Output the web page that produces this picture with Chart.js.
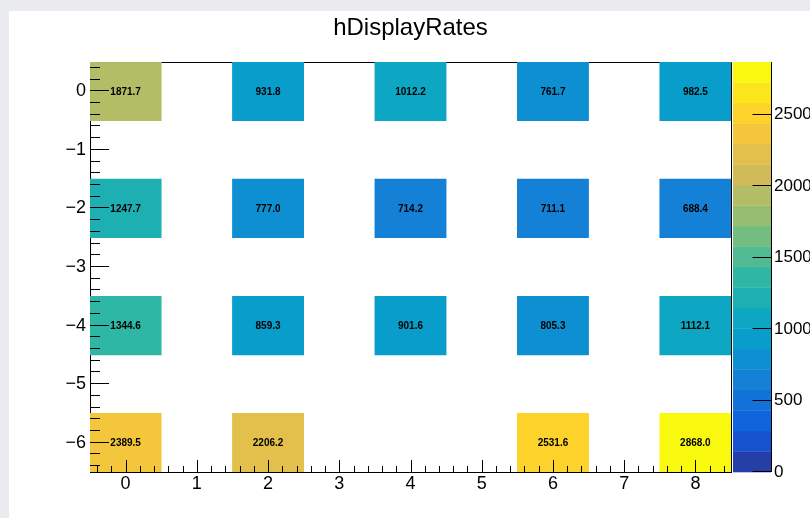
<!DOCTYPE html>
<html>
<head>
<meta charset="utf-8">
<title>hDisplayRates</title>
<script src="https://cdn.jsdelivr.net/npm/chart.js@4/dist/chart.umd.min.js"></script>
<style>
  html, body { margin: 0; padding: 0; width: 810px; height: 518px; overflow: hidden; background: #e9ebee; }
  #sheet { position: absolute; left: 9px; top: 11px; width: 801px; height: 507px; background: #ffffff; }
  #c { position: absolute; left: 0; top: 0; }
</style>
</head>
<body>
<div id="sheet"></div>
<canvas id="c" width="810" height="518"></canvas>
<script>
// Bin centres of the filled bins
const xBins = [0, 2, 4, 6, 8];
const yBins = [0, -2, -4, -6];
const binWidth = 1;

// Display rates per row (one value per x bin, null = empty bin)
const ratesY0  = [1871.7, 931.8, 1012.2, 761.7, 982.5];
const ratesYm2 = [1247.7, 777.0, 714.2, 711.1, 688.4];
const ratesYm4 = [1344.6, 859.3, 901.6, 805.3, 1112.1];
const ratesYm6 = [2389.5, 2206.2, null, 2531.6, 2868.0];
const rateRows = [ratesY0, ratesYm2, ratesYm4, ratesYm6];

// Axis tick values
const xTickValues = [0, 1, 2, 3, 4, 5, 6, 7, 8];
const yTickValues = [0, -1, -2, -3, -4, -5, -6];
const zTickValues = [0, 500, 1000, 1500, 2000, 2500];

// Bird palette (gradient stops)
const birdStops = [0.0000, 0.1250, 0.2500, 0.3750, 0.5000, 0.6250, 0.7500, 0.8750, 1.0000];
const birdRed   = [0.2082, 0.0592, 0.0780, 0.0232, 0.1802, 0.5301, 0.8186, 0.9956, 0.9764];
const birdGreen = [0.1664, 0.3599, 0.5041, 0.6419, 0.7178, 0.7492, 0.7328, 0.7862, 0.9832];
const birdBlue  = [0.5293, 0.8684, 0.8385, 0.7914, 0.6425, 0.4662, 0.3499, 0.1968, 0.0539];
const paletteSize = 255;
const nLevels = 20;

function birdColor(k) {
  for (let g = 1; g < birdStops.length; g++) {
    const lo = Math.floor(paletteSize * birdStops[g - 1]);
    const hi = Math.floor(paletteSize * birdStops[g]);
    if (k < hi || g === birdStops.length - 1) {
      const t = (k - lo) / (hi - lo);
      const r = birdRed[g - 1] + (birdRed[g] - birdRed[g - 1]) * t;
      const gr = birdGreen[g - 1] + (birdGreen[g] - birdGreen[g - 1]) * t;
      const b = birdBlue[g - 1] + (birdBlue[g] - birdBlue[g - 1]) * t;
      return `rgb(${Math.round(r * 255)},${Math.round(gr * 255)},${Math.round(b * 255)})`;
    }
  }
}

const allRates = rateRows.flat().filter(v => v !== null);
const zMin = 0;
const zMax = Math.max(...allRates);

function levelOf(z) {
  return Math.floor(0.01 + (z - zMin) * nLevels / (zMax - zMin));
}
function levelColor(level) {
  let k = Math.floor((level + 0.99) * paletteSize / nLevels);
  if (k > paletteSize - 1) k = paletteSize - 1;
  return birdColor(k);
}

// One floating bar per filled bin
const cells = [];
rateRows.forEach((row, r) => {
  row.forEach((v, i) => {
    if (v === null) return;
    cells.push({ x: xBins[i], y: [yBins[r] - binWidth / 2, yBins[r] + binWidth / 2], v: v });
  });
});

const FONT = "'Liberation Sans', Arial, Helvetica, sans-serif";
const fmtTick = v => (v < 0 ? '\u2212' + (-v) : String(v));

// Frame lines (top and right) sit underneath the cells
const framePlugin = {
  id: 'frame',
  beforeDatasetsDraw(chart) {
    const { ctx, chartArea: a } = chart;
    ctx.save();
    ctx.strokeStyle = '#000';
    ctx.lineWidth = 1;
    ctx.beginPath();
    ctx.moveTo(Math.round(a.left), Math.round(a.top) + 0.5);
    ctx.lineTo(Math.round(a.right) + 0.5, Math.round(a.top) + 0.5);
    ctx.lineTo(Math.round(a.right) + 0.5, Math.round(a.bottom));
    ctx.stroke();
    ctx.restore();
  }
};

// Bin content printed in each cell
const cellTextPlugin = {
  id: 'cellText',
  afterDatasetsDraw(chart) {
    const { ctx } = chart;
    const meta = chart.getDatasetMeta(0);
    ctx.save();
    ctx.fillStyle = '#000';
    ctx.font = `bold 10px ${FONT}`;
    ctx.textAlign = 'center';
    ctx.textBaseline = 'middle';
    meta.data.forEach((bar, i) => {
      const p = bar.getProps(['x', 'y', 'base'], true);
      ctx.fillText(cells[i].v.toFixed(1), p.x, (p.y + p.base) / 2 + 1);
    });
    ctx.restore();
  }
};

// Colour scale bar next to the frame, driven by the z scale
const paletteAxisPlugin = {
  id: 'paletteAxis',
  beforeDatasetsDraw(chart) {
    const { ctx } = chart;
    const z = chart.scales.z;
    const x0 = z.left + 2, x1 = z.left + 40;
    ctx.save();
    for (let j = 0; j < nLevels; j++) {
      const lo = zMin + j * (zMax - zMin) / nLevels;
      const hi = zMin + (j + 1) * (zMax - zMin) / nLevels;
      const yTop = z.getPixelForValue(hi), yBot = z.getPixelForValue(lo);
      ctx.fillStyle = levelColor(j);
      ctx.fillRect(x0, yTop, x1 - x0, yBot - yTop + 0.3);
    }
    ctx.restore();
  },
  afterDraw(chart) {
    const { ctx } = chart;
    const z = chart.scales.z;
    const ax = Math.round(z.left + 40) + 0.5;
    ctx.save();
    ctx.strokeStyle = '#000';
    ctx.lineWidth = 1;
    ctx.beginPath();
    ctx.moveTo(ax, z.top);
    ctx.lineTo(ax, z.bottom);
    zTickValues.forEach(v => {
      const py = Math.round(z.getPixelForValue(v)) - 0.5;
      ctx.moveTo(ax, py);
      ctx.lineTo(ax - 19, py);
    });
    ctx.stroke();
    ctx.restore();
  }
};

// Inner tick marks of the x and y axes (major every 1, minor every 0.2)
const innerTicksPlugin = {
  id: 'innerTicks',
  afterDraw(chart) {
    const { ctx, chartArea: a } = chart;
    const { x, y } = chart.scales;
    ctx.save();
    ctx.strokeStyle = '#000';
    ctx.lineWidth = 1;
    ctx.beginPath();
    for (let i = Math.ceil(x.min * 5 - 1e-9); i <= Math.floor(x.max * 5 + 1e-9); i++) {
      const px = Math.round(x.getPixelForValue(i / 5)) + 0.5;
      const len = i % 5 === 0 ? 12 : 6;
      ctx.moveTo(px, a.bottom);
      ctx.lineTo(px, a.bottom - len);
    }
    for (let i = Math.ceil(y.min * 5 - 1e-9); i <= Math.floor(y.max * 5 + 1e-9); i++) {
      const py = Math.round(y.getPixelForValue(i / 5)) - 0.5;
      const len = i % 5 === 0 ? 19 : 10;
      ctx.moveTo(a.left, py);
      ctx.lineTo(a.left + len, py);
    }
    ctx.stroke();
    ctx.restore();
  }
};

new Chart(document.getElementById('c'), {
  type: 'bar',
  data: {
    datasets: [{
      data: cells,
      backgroundColor: cells.map(c => levelColor(Math.min(levelOf(c.v), nLevels - 1))),
      borderWidth: 0,
      barPercentage: 1,
      categoryPercentage: 1,
      grouped: false
    }]
  },
  options: {
    responsive: false,
    animation: false,
    devicePixelRatio: 1,
    layout: { padding: 0 },
    plugins: {
      legend: { display: false },
      tooltip: { enabled: false },
      title: {
        display: true,
        text: 'hDisplayRates',
        color: '#000',
        fullSize: false,
        font: { family: FONT, size: 24, weight: 'normal' },
        padding: { top: 14, bottom: 19.2 }
      }
    },
    scales: {
      x: {
        type: 'linear',
        min: -0.5,
        max: 8.5,
        offset: false,
        z: 1,
        afterBuildTicks: s => { s.ticks = xTickValues.map(v => ({ value: v })); },
        afterFit: s => { s.height = 46; },
        grid: { display: false, drawTicks: false, offset: false },
        border: { display: true, color: '#000', width: 1 },
        ticks: { color: '#000', font: { family: FONT, size: 18 }, padding: 1, maxRotation: 0, autoSkip: false, callback: fmtTick }
      },
      y: {
        type: 'linear',
        min: -6.5,
        max: 0.5,
        z: 1,
        afterBuildTicks: s => { s.ticks = yTickValues.map(v => ({ value: v })); },
        afterFit: s => { s.width = 90; },
        grid: { display: false, drawTicks: false },
        border: { display: true, color: '#000', width: 1 },
        ticks: { color: '#000', font: { family: FONT, size: 18 }, padding: 4, autoSkip: false, callback: fmtTick }
      },
      z: {
        type: 'linear',
        axis: 'y',
        position: 'right',
        min: zMin,
        max: zMax,
        afterBuildTicks: s => { s.ticks = zTickValues.map(v => ({ value: v })); },
        afterFit: s => { s.width = 79; },
        grid: { display: false, drawTicks: true, tickLength: 40 },
        border: { display: false },
        ticks: { color: '#000', font: { family: FONT, size: 17 }, padding: 3, autoSkip: false, callback: v => String(v) }
      }
    }
  },
  plugins: [framePlugin, paletteAxisPlugin, cellTextPlugin, innerTicksPlugin]
});
</script>
</body>
</html>
